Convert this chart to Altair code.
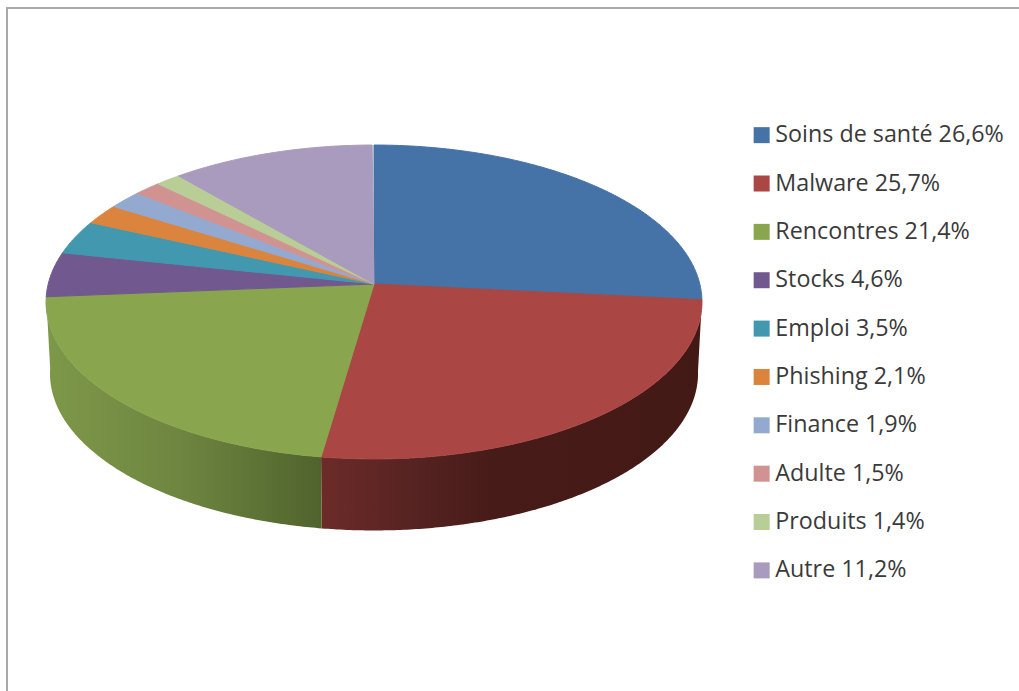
import math
import altair as alt

categories = ["Soins de santé", "Malware", "Rencontres", "Stocks", "Emploi",
              "Phishing", "Finance", "Adulte", "Produits", "Autre"]
shares = [26.6, 25.7, 21.4, 4.6, 3.5, 2.1, 1.9, 1.5, 1.4, 11.2]
share_texts = ["26,6%", "25,7%", "21,4%", "4,6%", "3,5%", "2,1%", "1,9%", "1,5%", "1,4%", "11,2%"]
colors = ["#4572A7", "#AA4643", "#89A54E", "#71588F", "#4198AF",
          "#DB843D", "#93A9CF", "#D19392", "#B9CD96", "#A99BBD"]

labels = [f"{c} {t}" for c, t in zip(categories, share_texts)]

# Tilted-disc geometry: a circle seen in perspective, plus the wall below it.
APEX = [374, 284]
HALF_WIDTH = 325.8
DEPTH_SCALE = 154.9
PERSPECTIVE = 0.1146
WALL_HEIGHT = 71.5
WALL_NARROWING = 0.988


def rim_point(turn_degrees, lower=False):
    a = math.radians(turn_degrees)
    across, away = math.sin(a), math.cos(a)
    w = 1 + PERSPECTIVE * away
    x = HALF_WIDTH * across / w
    y = -DEPTH_SCALE * away / w
    if lower:
        return [x * WALL_NARROWING, y + WALL_HEIGHT]
    return [x, y]


def rim_arc(start, end, lower=False):
    steps = max(2, int(abs(end - start) * 2))
    return [rim_point(start + (end - start) * i / steps, lower) for i in range(steps + 1)]


def feature(ring, **props):
    return {"type": "Feature", "properties": props,
            "geometry": {"type": "Polygon", "coordinates": [ring]}}


edges = [0.0]
for s in shares:
    edges.append(edges[-1] + s * 3.6)

top_faces = []
for label, start, end in zip(labels, edges[:-1], edges[1:]):
    ring = [[0, 0]] + rim_arc(start, end) + [[0, 0]]
    top_faces.append(feature(ring, label=label))


def wall(index):
    start, end = edges[index], edges[index + 1]
    upper = rim_arc(start, end)
    lower = rim_arc(end, start, lower=True)
    return feature(upper + lower + [upper[0]], label=labels[index])


projection = alt.Projection(type="identity", scale=1, translate=APEX)

malware_wall = alt.Chart(alt.Data(values=[wall(1)])).mark_geoshape(
    strokeWidth=0,
    fill=alt.Gradient(gradient="linear", x1=0, x2=1, y1=0, y2=0, stops=[
        alt.GradientStop(offset=0, color="#6c2b29"),
        alt.GradientStop(offset=0.25, color="#552321"),
        alt.GradientStop(offset=0.45, color="#471b18"),
        alt.GradientStop(offset=1, color="#431916"),
    ]),
).project(**projection.to_dict())

dating_wall = alt.Chart(alt.Data(values=[wall(2)])).mark_geoshape(
    strokeWidth=0,
    fill=alt.Gradient(gradient="linear", x1=0, x2=1, y1=0, y2=0, stops=[
        alt.GradientStop(offset=0, color="#7e9849"),
        alt.GradientStop(offset=0.5, color="#6d8540"),
        alt.GradientStop(offset=1, color="#50632d"),
    ]),
).project(**projection.to_dict())

faces = alt.Chart(alt.Data(values=top_faces)).mark_geoshape(strokeWidth=1).encode(
    color=alt.Color(
        "properties.label:N",
        sort=labels,
        scale=alt.Scale(domain=labels, range=colors),
        legend=alt.Legend(
            title=None,
            orient="none",
            legendX=750,
            legendY=123.5,
            symbolType="square",
            symbolSize=256,
            symbolStrokeWidth=0,
            symbolOpacity=1,
            labelFont="Open Sans",
            labelFontSize=23.3,
            labelColor="#3a3a3a",
            labelOffset=2,
            labelLimit=300,
            rowPadding=24.36,
            padding=0,
        ),
    ),
    stroke=alt.Stroke(
        "properties.label:N",
        sort=labels,
        scale=alt.Scale(domain=labels, range=colors),
        legend=None,
    ),
).project(**projection.to_dict())

frame_top = alt.Chart(alt.Data(values=[{"edge": 1}])).mark_rule(color="#a8a8a8", strokeWidth=2).encode(
    x=alt.value(6), x2=alt.value(1019), y=alt.value(8)
)
frame_left = alt.Chart(alt.Data(values=[{"edge": 1}])).mark_rule(color="#a8a8a8", strokeWidth=2).encode(
    x=alt.value(7), y=alt.value(7), y2=alt.value(691)
)

chart = alt.layer(frame_top, frame_left, malware_wall, dating_wall, faces).properties(
    width=1019,
    height=691,
    padding=0,
    autosize=alt.AutoSizeParams(type="none"),
    background="white",
).configure_view(stroke=None)

chart.save("out.html", embed_options={"renderer": "svg", "actions": False})
